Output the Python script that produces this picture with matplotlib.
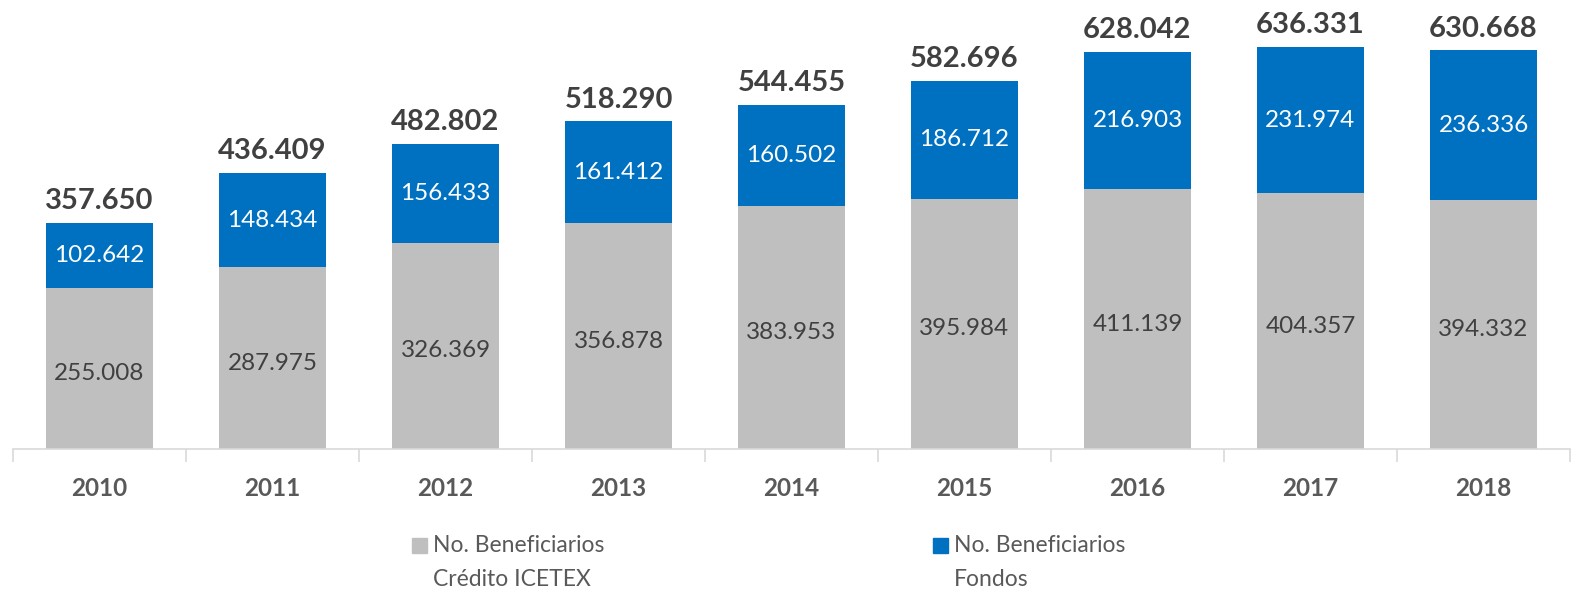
"""Stacked bars: beneficiarios ICETEX por año."""

import matplotlib
matplotlib.use("Agg")
import matplotlib.pyplot as plt
from matplotlib.patches import Rectangle
import numpy as np

years = ["2010", "2011", "2012", "2013", "2014", "2015", "2016", "2017", "2018"]
credito = [255008, 287975, 326369, 356878, 383953, 395984, 411139, 404357, 394332]
fondos = [102642, 148434, 156433, 161412, 160502, 186712, 216903, 231974, 236336]
totales = [357650, 436409, 482802, 518290, 544455, 582696, 628042, 636331, 630668]
series_names = ["No. Beneficiarios\nCrédito ICETEX", "No. Beneficiarios\nFondos"]

GRAY = "#BFBFBF"
BLUE = "#0070C0"
TXT = "#404040"
W, H = 1572, 591

plt.rcParams["font.family"] = ["Lato", "DejaVu Sans"]


def fmt(v):
    return f"{v:,}".replace(",", ".")


fig = plt.figure(figsize=(W / 100, H / 100), dpi=100)
ax = fig.add_axes([13 / W, 142 / H, 1557 / W, 449 / H])

x = np.arange(len(years))
b1 = ax.bar(x, credito, width=0.615, color=GRAY)
b2 = ax.bar(x, fondos, width=0.615, bottom=credito, color=BLUE)

for i in range(len(years)):
    ax.text(x[i], credito[i] / 2 - 8000, fmt(credito[i]), ha="center", va="center",
            fontsize=17.5, color=TXT)
    ax.text(x[i], credito[i] + fondos[i] / 2, fmt(fondos[i]), ha="center", va="center",
            fontsize=17.5, color="white")
    ax.text(x[i], credito[i] + fondos[i] + 14000, fmt(totales[i]), ha="center",
            va="bottom", fontsize=21, fontweight="bold", color=TXT)

ax.set_xlim(-0.5, len(years) - 0.5)
ax.set_ylim(0, 710500)
ax.set_yticks([])
for s in ["top", "right", "left"]:
    ax.spines[s].set_visible(False)
ax.spines["bottom"].set_color("#D9D9D9")
ax.spines["bottom"].set_linewidth(1.2)
ax.set_xticks(x)
ax.set_xticklabels(years, fontsize=17.5, fontweight="bold", color="#595959")
ax.tick_params(axis="x", length=0, pad=20)
ax.set_xticks(np.arange(-0.5, len(years)), minor=True)
ax.tick_params(axis="x", which="minor", length=9, color="#D9D9D9", width=1.2)

# legend drawn by hand: square aligned with the first text line
for name, bars, lx in [(series_names[0], b1, 412), (series_names[1], b2, 933)]:
    fig.add_artist(Rectangle((lx / W, 1 - 553 / H), 15 / W, 15 / H,
                             transform=fig.transFigure,
                             color=bars.patches[0].get_facecolor()))
    fig.text((lx + 21) / W, 1 - 535 / H, name, ha="left", va="top",
             fontsize=16.5, color="#595959", linespacing=1.75)

fig.savefig("out.png", dpi=100)
